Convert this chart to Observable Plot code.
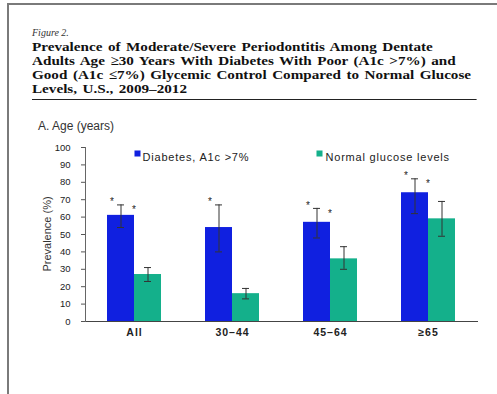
<!DOCTYPE html>
<html>
<head>
<meta charset="utf-8">
<script src="https://cdn.jsdelivr.net/npm/d3@7"></script>
<script src="https://cdn.jsdelivr.net/npm/@observablehq/plot@0.6"></script>
<style>
  html, body { margin: 0; padding: 0; background: #fff; }
  body { width: 497px; height: 394px; position: relative; overflow: hidden; font-family: "Liberation Sans", Arial, sans-serif; }
  #frame { position: absolute; left: 7px; top: 3px; width: 600px; height: 600px; border-left: 2px solid #7a7a7a; border-top: 2px solid #7a7a7a; }
  #fig { position: absolute; left: 32px; top: 27px; font-family: "Liberation Serif", "Times New Roman", serif; font-style: italic; font-size: 10px; line-height: 12px; color: #333; }
  #title { position: absolute; left: 32px; top: 40px; width: 390px; transform: scaleX(1.14); transform-origin: 0 0; font-family: "Liberation Serif", "Times New Roman", serif; font-weight: bold; font-size: 13.3px; line-height: 14px; color: #111; border-bottom: 1.5px solid #222; padding-bottom: 3px; }
  #title div { white-space: nowrap; word-spacing: 1.5px; }
  #panel { position: absolute; left: 38px; top: 119px; font-size: 12px; line-height: 14px; color: #333; }
  #chart { position: absolute; left: 0; top: 120px; }
</style>
</head>
<body>
<div id="frame"></div>
<div id="fig">Figure 2.</div>
<div id="title">
  <div>Prevalence of Moderate/Severe Periodontitis Among Dentate</div>
  <div>Adults Age ≥30 Years With Diabetes With Poor (A1c &gt;7%) and</div>
  <div>Good (A1c ≤7%) Glycemic Control Compared to Normal Glucose</div>
  <div>Levels, U.S., 2009–2012</div>
</div>
<div id="panel">A. Age (years)</div>
<div id="chart"></div>
<script>
// ---- data ----
const groups = ["All", "30–44", "45–64", "≥65"];
const series = ["Diabetes, A1c >7%", "Normal glucose levels"];
const diabetes   = [61, 54, 57, 74];
const diabetesLo = [54, 40, 48, 62];
const diabetesHi = [67, 67, 65, 82];
const normal     = [27, 16, 36, 59];
const normalLo   = [23, 13, 30, 49];
const normalHi   = [31, 19, 43, 69];
const diabetesStar = [true, true, true, true];
const normalStar   = [true, false, true, true];
const yTicks = [0, 10, 20, 30, 40, 50, 60, 70, 80, 90, 100];
const colors = ["#1020e0", "#14b08b"];

// ---- build tables ----
const rows = groups.flatMap((g, i) => [
  {group: g, series: series[0], value: diabetes[i], lo: diabetesLo[i], hi: diabetesHi[i]},
  {group: g, series: series[1], value: normal[i], lo: normalLo[i], hi: normalHi[i]}
]);
const starsA = groups.map((g, i) => ({group: g, series: series[0], y: diabetesHi[i], on: diabetesStar[i]})).filter(d => d.on);
const starsB = groups.map((g, i) => ({group: g, series: series[1], y: diabetesHi[i], on: normalStar[i]})).filter(d => d.on);

const chart = Plot.plot({
  width: 497,
  height: 231,
  marginTop: 27,
  marginBottom: 30,
  marginLeft: 85,
  marginRight: 20,
  style: {fontFamily: "'Liberation Sans', Arial, sans-serif", color: "#222", background: "transparent"},
  fx: {domain: groups, padding: 0, label: null},
  x: {domain: series, axis: null, paddingInner: 0, paddingOuter: 0.78},
  y: {domain: [0, 100], label: null},
  color: {domain: series, range: colors},
  marks: [
    Plot.axisY({ticks: yTicks, tickSize: 4, tickPadding: 11, fontSize: 9.5, label: null, stroke: "#555"}),
    Plot.axisFx({anchor: "bottom", tickSize: 0, tickPadding: 7, fontSize: 10.5, fontWeight: "bold", label: null}),
    Plot.barY(rows, {fx: "group", x: "series", y: "value", fill: "series"}),
    Plot.ruleX(rows, {fx: "group", x: "series", y1: "lo", y2: "hi", stroke: "#333", strokeWidth: 1}),
    Plot.tickY(rows, {fx: "group", x: "series", y: "hi", stroke: "#333", insetLeft: 10, insetRight: 10}),
    Plot.tickY(rows, {fx: "group", x: "series", y: "lo", stroke: "#333", insetLeft: 10, insetRight: 10}),
    Plot.text(starsA, {fx: "group", x: "series", y: "y", text: () => "*", dx: -9, dy: -3, fontSize: 10, fill: "#222"}),
    Plot.text(starsB, {fx: "group", x: "series", y: "y", text: () => "*", dx: -14, dy: 5, fontSize: 10, fill: "#222"}),
    Plot.frame({anchor: "bottom", facet: "super", stroke: "#444"}),
    Plot.frame({anchor: "left", facet: "super", stroke: "#666"}),
    Plot.dot([series[0]], {facet: "super", frameAnchor: "top-left", dx: 52, dy: 6, symbol: "square", r: 3.4, fill: colors[0]}),
    Plot.text([series[0]], {facet: "super", frameAnchor: "top-left", dx: 57, dy: 6, text: d => d, textAnchor: "start", fontSize: 11, fill: "#222"}),
    Plot.dot([series[1]], {facet: "super", frameAnchor: "top-left", dx: 234, dy: 6, symbol: "square", r: 3.4, fill: colors[1]}),
    Plot.text([series[1]], {facet: "super", frameAnchor: "top-left", dx: 240, dy: 6, text: d => d, textAnchor: "start", fontSize: 11, fill: "#222"})
  ]
});
document.getElementById("chart").appendChild(chart);

// y-axis title
const svg = d3.select(chart);
svg.append("text")
  .attr("transform", `translate(47,${(27 + 201) / 2}) rotate(-90)`)
  .attr("text-anchor", "middle")
  .attr("dy", "0.35em")
  .attr("font-size", 11)
  .attr("fill", "#333")
  .text("Prevalence (%)");

// letter spacing for the legend and category labels, as in the reference
svg.selectAll("text").filter(function() { return series.includes(this.textContent); }).attr("letter-spacing", "0.8px");
svg.selectAll("text").filter(function() { return groups.includes(this.textContent); }).attr("letter-spacing", "1px");
</script>
</body>
</html>
